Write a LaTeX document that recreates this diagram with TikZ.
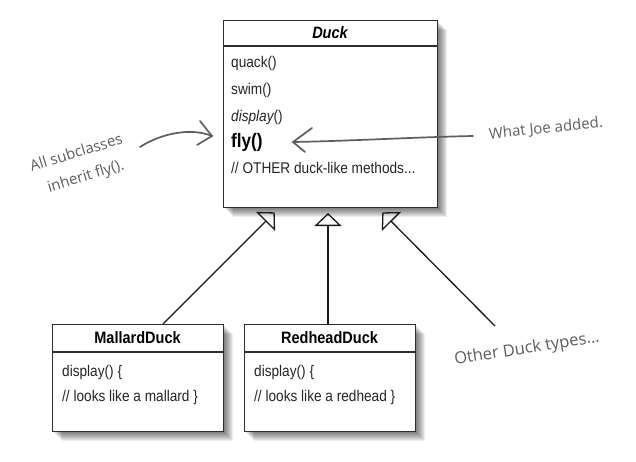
\documentclass[tikz,border=0pt]{standalone}
\usepackage{fontspec}
\setmainfont[FakeStretch=0.88]{Liberation Sans}
\newfontfamily\hand{Open Sans}
\usetikzlibrary{arrows.meta,calc}
\definecolor{boxline}{HTML}{2E2E2E}
\definecolor{handgray}{HTML}{5E5E5E}
\begin{document}
\begin{tikzpicture}[x=1pt,y=-1pt,
  umlbox/.style={draw=boxline,line width=1.2pt,fill=white,rectangle,inner sep=0pt,anchor=north west},
  sepline/.style={draw=boxline,line width=1.1pt},
  title/.style={font=\fontsize{16.5}{18}\selectfont\bfseries,inner sep=0pt},
  item/.style={font=\fontsize{15.5}{18}\selectfont,anchor=west,inner sep=0pt,text=black!85},
  gen/.style={draw=black!90,line width=1.3pt,-{Triangle[open,length=13pt,width=27pt,line width=1.3pt]}},
  handtext/.style={font=\hand\fontsize{15}{18}\selectfont,text=handgray,inner sep=0pt},
  handline/.style={draw=handgray,line width=1.7pt,line cap=round,line join=round}]
\useasboundingbox (0,0) rectangle (636,461);
% shadows
\foreach \s in {2,3,...,10}{
  \fill[black,opacity=0.07] (223+\s,20+\s) rectangle (437+\s,207+\s);
  \fill[black,opacity=0.07] (52+\s,324+\s) rectangle (223+\s,431+\s);
  \fill[black,opacity=0.07] (244+\s,324+\s) rectangle (415+\s,431+\s);
}
% Duck
\node[umlbox,minimum width=214pt,minimum height=187pt] (duck) at (223,20) {};
\draw[sepline] (223,46) -- (437,46);
\node[title,font=\fontsize{16.5}{18}\selectfont\bfseries\itshape] (duckt) at (330,33) {Duck};
\node[item] (m1) at (231,63) {quack()};
\node[item] (m2) at (231,90) {swim()};
\node[item] (m3) at (231,117) {\itshape display\upshape()};
\node[item,font=\fontsize{19.5}{22}\selectfont\bfseries,text=black] (m4) at (231,142) {fly()};
\node[item] (m5) at (231,168) {// OTHER duck-like methods...};
% MallardDuck
\node[umlbox,minimum width=171pt,minimum height=107pt] (mal) at (52,324) {};
\draw[sepline] (52,352) -- (223,352);
\node[title] (malt) at (137.5,338) {MallardDuck};
\node[item] (ma1) at (62,372) {display() \{};
\node[item] (ma2) at (62,397) {// looks like a mallard \}};
% RedheadDuck
\node[umlbox,minimum width=171pt,minimum height=107pt] (red) at (244,324) {};
\draw[sepline] (244,352) -- (415,352);
\node[title] (redt) at (329.5,338) {RedheadDuck};
\node[item] (re1) at (254,372) {display() \{};
\node[item] (re2) at (254,397) {// looks like a redhead \}};
% generalization arrows
\coordinate (other) at (495,326);
\draw[gen,shorten >=7.5pt] (mal.north west) ++(111,0) -- (280,207);
\draw[gen,shorten >=6pt] (red.north west) ++(84,0) -- (328,207);
\draw[gen,shorten >=7.5pt] (other) -- (377,207);
% annotations
\node[handtext,rotate=17] (note1a) at (76,152) {All subclasses};
\node[handtext,rotate=17] (note1b) at (86,177) {inherit fly().};
\coordinate (a1s) at (140,147);
\coordinate (a1e) at (212,136);
\draw[handline] (a1s) .. controls (160,134) and (190,127) .. (a1e);
\draw[handline] (200,121) -- (a1e) -- (197,145);
\node[handtext,rotate=6] (note2) at (546,129) {What Joe added.};
\coordinate (a2s) at (473,136);
\coordinate (a2e) at (293,142);
\draw[handline] (a2s) .. controls (420,137) and (350,141) .. (a2e);
\draw[handline] (312,128) -- (a2e) -- (305,152);
\node[handtext,font=\hand\fontsize{16.5}{18}\selectfont,rotate=9] (note3) at (527,349) {Other Duck types...};
\end{tikzpicture}
\end{document}
